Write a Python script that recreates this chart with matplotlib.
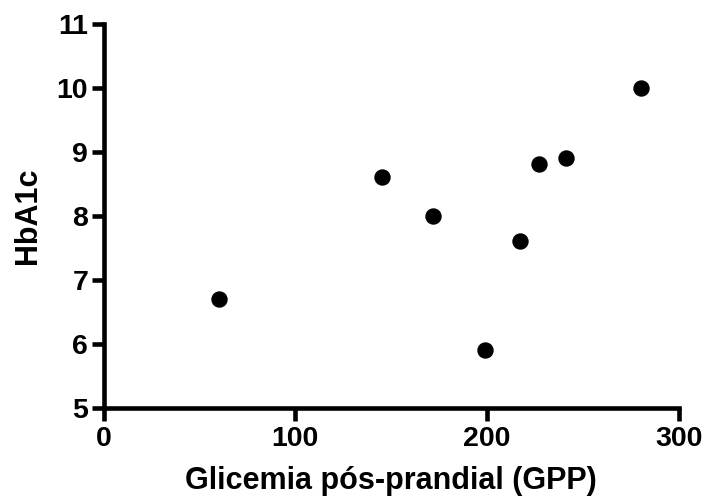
import matplotlib.pyplot as plt

gpp = [60, 145, 172, 199, 217, 227, 241, 280]
hba1c = [6.7, 8.6, 8.0, 5.9, 7.6, 8.8, 8.9, 10.0]
x_ticks = [0, 100, 200, 300]
y_ticks = [5, 6, 7, 8, 9, 10, 11]

plt.rcParams['font.family'] = ['Liberation Sans', 'DejaVu Sans']
plt.rcParams['font.weight'] = 'bold'

fig = plt.figure(figsize=(7.07, 5.03), dpi=100)
ax = fig.add_axes([0.1464, 0.1895, 0.9604 - 0.1464, 0.9529 - 0.1895])

ax.plot(gpp, hba1c, 'o', color='black', markersize=10.8, clip_on=False)

ax.set_xlim(0, 300)
ax.set_ylim(5, 11)
ax.set_xticks(x_ticks)
ax.set_yticks(y_ticks)

for side in ['top', 'right']:
    ax.spines[side].set_visible(False)
for side in ['left', 'bottom']:
    ax.spines[side].set_linewidth(3.3)
    ax.spines[side].set_capstyle('projecting')

ax.tick_params(axis='both', direction='out', length=9, width=3.3,
               labelsize=20.5)
ax.tick_params(axis='x', pad=4)
ax.tick_params(axis='y', pad=2)
for lab in ax.get_xticklabels() + ax.get_yticklabels():
    lab.set_fontweight('bold')

ax.set_xlabel("Glicemia pós-prandial (GPP)", fontsize=22, fontweight='bold', labelpad=10)
ax.set_ylabel("HbA1c", fontsize=22, fontweight='bold', labelpad=10)

fig.savefig("out.png", dpi=100)
